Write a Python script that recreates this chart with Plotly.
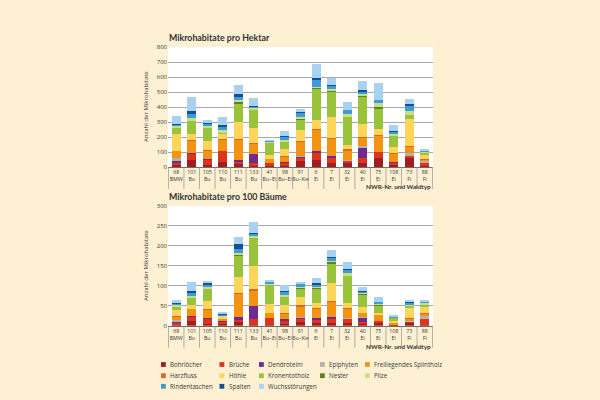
import plotly.graph_objects as go

# ---------------- data ----------------
nwr_nr = ["68", "101", "105", "110", "111", "133", "41", "98", "91",
          "6", "7", "32", "40", "75", "108", "73", "88"]
waldtyp = ["BMW", "Bu", "Bu", "Bu", "Bu", "Bu", "Bu–Ei", "Bu–Ei", "Bu–Kie",
           "Ei", "Ei", "Ei", "Ei", "Ei", "Ei", "Fi", "Fi"]

series_names = ["Bohrlöcher", "Brüche", "Dendrotelm", "Epiphyten",
                "Freiliegendes Splintholz", "Harzfluss", "Höhle",
                "Kronentotholz", "Nester", "Pilze", "Rindentaschen",
                "Spalten", "Wuchsstörungen"]

# Mikrohabitate pro Hektar
ha_bohrloecher = [14, 47, 13, 36, 24, 5, 5, 8, 40, 47, 29, 24, 24, 58, 13, 64, 5]
ha_brueche = [18, 44, 36, 71, 11, 24, 22, 23, 22, 44, 29, 22, 33, 40, 16, 9, 24]
ha_dendrotelm = [9, 4, 4, 3, 13, 56, 0, 4, 7, 16, 16, 0, 67, 0, 7, 0, 0]
ha_epiphyten = [22, 0, 0, 0, 0, 0, 0, 0, 7, 0, 0, 4, 18, 0, 0, 18, 11]
ha_splintholz = [44, 82, 58, 71, 138, 69, 27, 33, 93, 144, 118, 58, 56, 109, 51, 44, 11]
ha_harzfluss = [3, 3, 4, 4, 4, 4, 0, 3, 7, 4, 4, 9, 4, 4, 4, 4, 3]
ha_hoehle = [107, 42, 60, 36, 107, 104, 27, 51, 71, 58, 136, 33, 84, 40, 40, 184, 29]
ha_kronentotholz = [44, 82, 89, 9, 129, 122, 80, 49, 67, 207, 171, 184, 182, 140, 82, 27, 16]
ha_nester = [3, 0, 0, 0, 9, 0, 0, 0, 11, 11, 4, 0, 9, 7, 0, 0, 0]
ha_pilze = [13, 22, 11, 18, 9, 13, 7, 11, 9, 4, 11, 18, 9, 31, 7, 22, 7]
ha_rindentaschen = [6, 33, 13, 22, 22, 7, 7, 20, 31, 49, 22, 31, 18, 18, 16, 40, 7]
ha_spalten = [4, 13, 7, 13, 24, 4, 0, 7, 4, 9, 7, 0, 11, 0, 7, 11, 0]
ha_wuchsstoerungen = [53, 96, 20, 53, 56, 49, 4, 33, 16, 91, 49, 51, 56, 111, 38, 33, 4]

# Mikrohabitate pro 100 Bäume
b_bohrloecher = [4, 13, 5, 4, 10, 3, 3, 4, 10, 8, 8, 8, 4, 7, 1.3, 9, 2]
b_brueche = [4, 10, 12, 7, 4, 15, 17, 10, 8, 8, 10, 10, 6, 5, 1.6, 1.5, 14]
b_dendrotelm = [3, 1, 3, 0.4, 8, 32, 0, 2, 3, 3, 5, 0, 10, 0, 0.7, 0, 0]
b_epiphyten = [3, 0, 0, 0, 0, 0, 0, 0, 2, 0, 0, 1, 3, 0, 0, 2.5, 9]
b_splintholz = [10, 18, 20, 7, 58, 39, 13, 15, 26, 25, 38, 23, 9, 15, 5, 6, 6]
b_harzfluss = [1, 1, 1, 0.4, 2, 2, 0, 1, 2, 1, 2, 3, 1, 1, 0.4, 0.6, 2]
b_hoehle = [15, 9, 21, 4, 39, 58, 21, 21, 21, 11, 44, 11, 13, 5, 4, 26, 13]
b_kronentotholz = [8, 18, 32, 1, 54, 73, 49, 20, 20, 37, 50, 69, 32, 18, 8, 3.8, 8]
b_nester = [1, 0, 0, 0, 3, 0, 0, 0, 3, 2, 3, 0, 2, 1, 0, 0, 0]
b_pilze = [3, 4, 3, 2, 3, 4, 4, 4, 2, 1, 3, 6, 2, 4, 0.7, 3, 2]
b_rindentaschen = [4, 8, 7, 2, 11, 4, 4, 8, 8, 8, 7, 10, 4, 3, 1.6, 5.6, 5]
b_spalten = [2, 4, 3, 1.3, 13, 2, 0, 3, 1, 2, 3, 2, 2, 0, 0.7, 1.5, 0]
b_wuchsstoerungen = [6, 23, 6, 5, 17, 28, 3, 13, 3, 13, 17, 17, 8, 14, 3.8, 4.6, 3]

ha_values = [ha_bohrloecher, ha_brueche, ha_dendrotelm, ha_epiphyten, ha_splintholz,
             ha_harzfluss, ha_hoehle, ha_kronentotholz, ha_nester, ha_pilze,
             ha_rindentaschen, ha_spalten, ha_wuchsstoerungen]
b_values = [b_bohrloecher, b_brueche, b_dendrotelm, b_epiphyten, b_splintholz,
            b_harzfluss, b_hoehle, b_kronentotholz, b_nester, b_pilze,
            b_rindentaschen, b_spalten, b_wuchsstoerungen]

colors = ["#a11d21", "#dd3420", "#6d2b8e", "#b2b2b2", "#f39312",
          "#d8692a", "#fdd659", "#98c33a", "#657f27", "#cadf85",
          "#3b9bdb", "#12508f", "#a9d2f1"]

tick_text = [f"{n}<br>{t}" for n, t in zip(nwr_nr, waldtyp)]

# ---------------- style ----------------
BG = "#fdf0d3"
FONT = "Open Sans"
TFONT = "Lato"
TXT = "#3a3a3a"
W, H = 600, 400

x_dom = [168 / W, 433 / W]
y1_dom = [1 - 167 / H, 1 - 47 / H]
y2_dom = [1 - 325.7 / H, 1 - 206 / H]

fig = go.Figure()
for name, col, vals in zip(series_names, colors, ha_values):
    fig.add_trace(go.Bar(x=nwr_nr, y=vals, name=name, marker=dict(color=col, line=dict(width=0)),
                         xaxis="x", yaxis="y", showlegend=False))
for name, col, vals in zip(series_names, colors, b_values):
    fig.add_trace(go.Bar(x=nwr_nr, y=vals, name=name, marker=dict(color=col, line=dict(width=0)),
                         xaxis="x2", yaxis="y2", showlegend=False))

xax = dict(domain=x_dom, type="category", categoryorder="array", categoryarray=nwr_nr,
           tickvals=nwr_nr, ticktext=tick_text, tickangle=0,
           tickfont=dict(size=5.3, color=TXT, family=FONT),
           showline=True, linecolor="#6b6b6b", linewidth=1, ticks="", showgrid=False,
           automargin=False, fixedrange=True)
yax = dict(gridcolor="#a8a8a8", gridwidth=1, zeroline=False, showline=False, ticks="",
           tickfont=dict(size=6, color=TXT, family=FONT), automargin=False)

fig.update_layout(
    width=W, height=H, margin=dict(l=0, r=0, t=0, b=0),
    paper_bgcolor=BG, plot_bgcolor="white", barmode="stack", bargap=0.42,
    showlegend=False, font=dict(family=FONT, color=TXT),
    xaxis=dict(xax, anchor="y"),
    yaxis=dict(yax, domain=y1_dom, range=[0, 800], dtick=100, anchor="x"),
    xaxis2=dict(xax, anchor="y2"),
    yaxis2=dict(yax, domain=y2_dom, range=[0, 300], dtick=50, anchor="x2"),
)

shapes = []
n = len(nwr_nr)
for xr, dom in (("x", y1_dom), ("x2", y2_dom)):
    for i in range(n + 1):
        shapes.append(dict(type="line", xref=xr, yref="paper", x0=i - 0.5, x1=i - 0.5,
                           y0=dom[0], y1=dom[0] - 22 / H,
                           line=dict(color="#9a9a9a", width=0.8)))

annotations = []
# titles
for txt, ypx in (("Mikrohabitate pro Hektar", 38), ("Mikrohabitate pro 100 Bäume", 197)):
    annotations.append(dict(text=f"<b>{txt}</b>", xref="paper", yref="paper",
                            x=167 / W, y=1 - ypx / H, xanchor="left", yanchor="middle",
                            showarrow=False, font=dict(size=8.8, color="#333333", family=TFONT)))
# y titles
for ypx in (107, 266):
    annotations.append(dict(text="Anzahl der Mikrohabitate", xref="paper", yref="paper",
                            x=146 / W, y=1 - ypx / H, textangle=-90, showarrow=False,
                            xanchor="center", yanchor="middle",
                            font=dict(size=6, color=TXT, family=FONT)))
# x titles
for ypx in (186, 346):
    annotations.append(dict(text="<b>NWR-Nr. und Waldtyp</b>", xref="paper", yref="paper",
                            x=433 / W, y=1 - ypx / H, xanchor="right", yanchor="middle",
                            showarrow=False, font=dict(size=6.4, color="#333333", family=TFONT)))

# legend (manual grid: 5 columns, 3 rows)
col_x = [161, 219.5, 259, 320, 365]
row_y = [364.5, 375.7, 386.3]
for i, (name, col) in enumerate(zip(series_names, colors)):
    r, c = divmod(i, 5)
    x0 = col_x[c]
    yc = row_y[r]
    shapes.append(dict(type="rect", xref="paper", yref="paper",
                       x0=x0 / W, x1=(x0 + 4.8) / W, y0=1 - (yc + 2.4) / H, y1=1 - (yc - 2.4) / H,
                       fillcolor=col, line=dict(width=0)))
    annotations.append(dict(text=name, xref="paper", yref="paper", x=(x0 + 7) / W, y=1 - yc / H,
                            xanchor="left", yanchor="middle", showarrow=False,
                            font=dict(size=6.2, color=TXT, family=FONT)))

fig.update_layout(shapes=shapes, annotations=annotations)
fig.write_html("out.html", config={"displayModeBar": False},
               post_script="document.body.style.margin='0';")
